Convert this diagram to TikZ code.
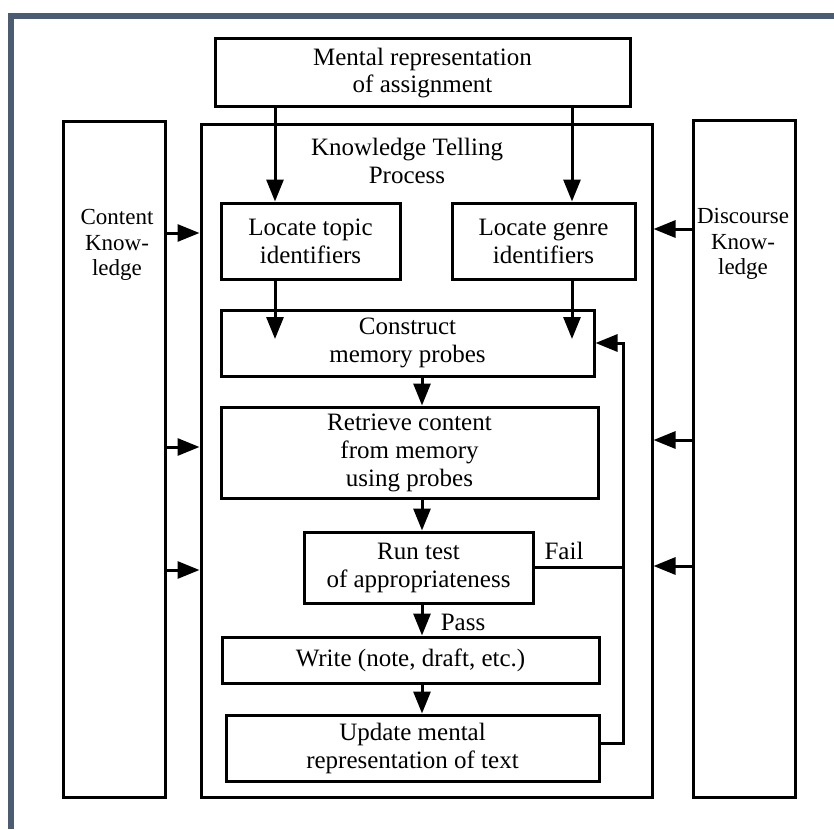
\documentclass[tikz,border=0pt]{standalone}
\usepackage{fontspec}
\setmainfont{Liberation Serif}
\usetikzlibrary{arrows.meta}
\definecolor{framecol}{HTML}{4B5B70}
\begin{document}
\begin{tikzpicture}[x=1pt,y=-1pt,
  every node/.style={font=\fontsize{25}{28}\selectfont, align=center},
  box/.style={draw, line width=3pt, rectangle, inner sep=0pt},
  plain/.style={inner sep=0pt},
  sidetext/.style={plain, font=\fontsize{23}{25.5}\selectfont},
  conn/.style={line width=3pt},
  arr/.style={conn, -{Triangle[length=22pt,width=17pt]}}]
\useasboundingbox (0,0) rectangle (834,829);
% page frame
\fill[framecol] (8,13) rectangle (834,19);
\fill[framecol] (8,13) rectangle (14,829);

% boxes
\node[box, minimum width=415pt, minimum height=68pt] (assign) at (422.5,73) {Mental representation\\[-1pt]of assignment};
\node[box, minimum width=451pt, minimum height=672pt] (main) at (426.5,461) {};
\node[box, minimum width=102pt, minimum height=675pt] (content) at (114,459.5) {};
\node[box, minimum width=102pt, minimum height=676pt] (discourse) at (744,459) {};
\node[sidetext] (contentT) at (117,245) {Content\\Know-\\ledge};
\node[sidetext] (discourseT) at (743,244) {Discourse\\Know-\\ledge};
\node[plain] (ktp) at (407,161) {Knowledge Telling\\Process};

\node[box, minimum width=179pt, minimum height=76pt] (topic) at (310.5,241) {Locate topic\\identifiers};
\node[box, minimum width=183pt, minimum height=76pt] (genre) at (543.5,241) {Locate genre\\identifiers};
\node[box, minimum width=373pt, minimum height=66pt] (construct) at (407.5,343) {Construct\\memory probes};
\node[box, minimum width=377pt, minimum height=91pt] (retrieve) at (409.5,452.5) {Retrieve content\\from memory\\using probes};
\node[box, minimum width=229pt, minimum height=71pt] (runtest) at (418.5,567.5) {Run test\\of appropriateness};
\node[box, minimum width=377pt, minimum height=46pt] (write) at (410.5,660) {Write (note, draft, etc.)};
\node[box, minimum width=373pt, minimum height=66pt] (update) at (412.5,748) {Update mental\\representation of text};

\node[plain] (fail) at (564,551) {Fail};
\node[plain] (pass) at (463,622) {Pass};

% connector columns and ends
\coordinate (colL) at (275,0);
\coordinate (colR) at (572,0);
\coordinate (colM) at (422,0);
\coordinate (tipL) at (275,339);
\coordinate (tipR) at (572,339);
\coordinate (loopTop) at (623,343);
\coordinate (kA) at (0,233);
\coordinate (kB) at (0,447);
\coordinate (kC) at (0,570);
\coordinate (dA) at (0,229);
\coordinate (dB) at (0,440);
\coordinate (dC) at (0,566);

% main flow
\draw[arr] (assign.south -| colL) -- (topic.north -| colL);
\draw[arr] (assign.south -| colR) -- (genre.north -| colR);
\draw[arr] (topic.south -| colL) -- (tipL);
\draw[arr] (genre.south -| colR) -- (tipR);
\draw[arr] (construct.south -| colM) -- (retrieve.north -| colM);
\draw[arr] (retrieve.south -| colM) -- (runtest.north -| colM);
\draw[arr] (runtest.south -| colM) -- (write.north -| colM);
\draw[arr] (write.south -| colM) -- (update.north -| colM);

% feedback loop
\draw[arr, line join=miter] ([yshift=5pt]update.east) -| (loopTop) -- (construct.east);
\draw[conn] (runtest.east) -- (runtest.east -| loopTop);

% knowledge sources
\draw[arr] (content.east |- kA) -- (main.west |- kA);
\draw[arr] (content.east |- kB) -- (main.west |- kB);
\draw[arr] (content.east |- kC) -- (main.west |- kC);
\draw[arr] (discourse.west |- dA) -- (main.east |- dA);
\draw[arr] (discourse.west |- dB) -- (main.east |- dB);
\draw[arr] (discourse.west |- dC) -- (main.east |- dC);
\end{tikzpicture}
\end{document}
